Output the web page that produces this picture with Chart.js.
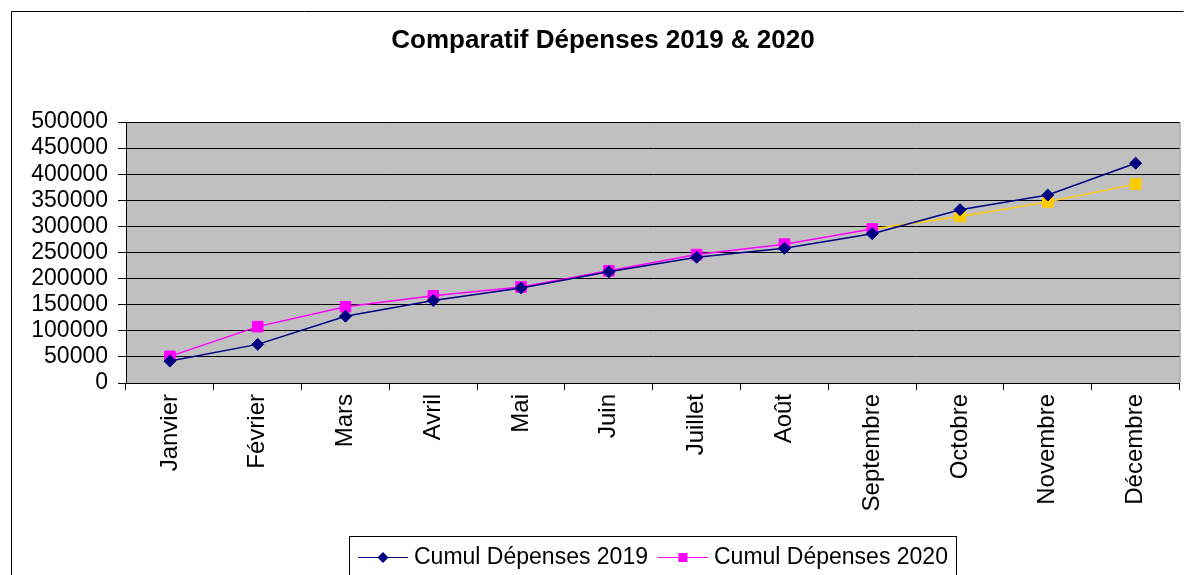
<!DOCTYPE html>
<html>
<head>
<meta charset="utf-8">
<script src="https://cdn.jsdelivr.net/npm/chart.js@4.4.1/dist/chart.umd.min.js"></script>
<style>
  html, body { margin: 0; padding: 0; background: #ffffff; }
  canvas { display: block; }
</style>
</head>
<body>
<canvas id="c" width="1188" height="575"></canvas>
<script>
const months = ["Janvier", "Février", "Mars", "Avril", "Mai", "Juin", "Juillet", "Août", "Septembre", "Octobre", "Novembre", "Décembre"];
const depenses2019 = [42000, 74000, 128000, 158000, 182000, 213000, 241000, 258000, 286000, 332000, 360000, 421000];
const depenses2020 = [51000, 108000, 146000, 167000, 184000, 215000, 246000, 266000, 295000, 319000, 347000, 381000];
const yTicks = [0, 50000, 100000, 150000, 200000, 250000, 300000, 350000, 400000, 450000, 500000];
const chartTitle = "Comparatif Dépenses 2019 & 2020";
const label2019 = "Cumul Dépenses 2019";
const label2020 = "Cumul Dépenses 2020";

const FONT = '"Liberation Sans", Arial, sans-serif';
const NAVY = '#000080';
const MAGENTA = '#FF00FF';
const YELLOW = '#FFCC00';
const LAST_MAGENTA_INDEX = 8; // Septembre

const color2020 = depenses2020.map((v, i) => i > LAST_MAGENTA_INDEX ? YELLOW : MAGENTA);

const decorPlugin = {
  id: 'decor',
  beforeDraw(chart) {
    const { ctx, chartArea: a } = chart;
    ctx.save();
    ctx.fillStyle = '#ffffff';
    ctx.fillRect(0, 0, chart.width, chart.height);
    // outer frame
    ctx.strokeStyle = '#000000';
    ctx.lineWidth = 1;
    ctx.beginPath();
    ctx.moveTo(11.5, chart.height + 5);
    ctx.lineTo(11.5, 11.5);
    ctx.lineTo(1183.5, 11.5);
    ctx.stroke();
    // plot background
    ctx.fillStyle = '#C0C0C0';
    ctx.fillRect(a.left, a.top, a.right - a.left, a.bottom - a.top);
    ctx.strokeStyle = '#808080';
    ctx.beginPath();
    ctx.moveTo(a.left, a.top + 0.5);
    ctx.lineTo(a.right + 0.5, a.top + 0.5);
    ctx.lineTo(a.right + 0.5, a.bottom);
    ctx.stroke();
    // title
    ctx.fillStyle = '#000000';
    ctx.font = 'bold 26px ' + FONT;
    ctx.textAlign = 'center';
    ctx.textBaseline = 'middle';
    ctx.fillText(chartTitle, 603, 41);
    ctx.restore();
  },
  afterDraw(chart) {
    const { ctx } = chart;
    ctx.save();
    // legend box
    const bx = 349.5, by = 536.5, bw = 607;
    ctx.fillStyle = '#ffffff';
    ctx.fillRect(bx, by, bw, 60);
    ctx.strokeStyle = '#000000';
    ctx.lineWidth = 1;
    ctx.strokeRect(bx, by, bw, 60);
    const cy = 557.5;
    ctx.font = '23px ' + FONT;
    ctx.textAlign = 'left';
    ctx.textBaseline = 'middle';
    let x = 358;
    chart.data.datasets.forEach((ds, i) => {
      const col = i === 0 ? ds.borderColor : MAGENTA;
      ctx.strokeStyle = col;
      ctx.lineWidth = 1.2;
      ctx.beginPath();
      ctx.moveTo(x, cy);
      ctx.lineTo(x + 50, cy);
      ctx.stroke();
      const mx = x + 25;
      ctx.fillStyle = col;
      ctx.beginPath();
      if (ds.pointStyle === 'rectRot') {
        ctx.moveTo(mx, cy - 5.5); ctx.lineTo(mx + 5.5, cy); ctx.lineTo(mx, cy + 5.5); ctx.lineTo(mx - 5.5, cy);
        ctx.closePath();
      } else {
        ctx.rect(mx - 4.5, cy - 4.5, 9, 9);
      }
      ctx.fill();
      ctx.fillStyle = '#000000';
      ctx.fillText(ds.label, x + 56, cy);
      x += 56 + ctx.measureText(ds.label).width + 10;
    });
    ctx.restore();
  }
};

new Chart(document.getElementById('c'), {
  type: 'line',
  data: {
    labels: months,
    datasets: [
      {
        label: label2019,
        data: depenses2019,
        borderColor: NAVY,
        backgroundColor: NAVY,
        borderWidth: 1.5,
        pointStyle: 'rectRot',
        pointRadius: 6,
        pointHoverRadius: 6,
        pointBackgroundColor: NAVY,
        pointBorderColor: NAVY,
        pointBorderWidth: 1,
        tension: 0,
        fill: false
      },
      {
        label: label2020,
        data: depenses2020,
        borderColor: MAGENTA,
        backgroundColor: MAGENTA,
        borderWidth: 1.5,
        pointStyle: 'rect',
        pointRadius: 7.5,
        pointHoverRadius: 7.5,
        pointBackgroundColor: color2020,
        pointBorderColor: color2020,
        pointBorderWidth: 1,
        tension: 0,
        fill: false,
        segment: {
          borderColor: c => c.p0DataIndex >= LAST_MAGENTA_INDEX ? YELLOW : MAGENTA
        }
      }
    ]
  },
  options: {
    responsive: false,
    animation: false,
    devicePixelRatio: 1,
    layout: { padding: { left: 0, right: 6, top: 122, bottom: 0 } },
    plugins: {
      legend: { display: false },
      title: { display: false },
      tooltip: { enabled: false }
    },
    scales: {
      x: {
        type: 'category',
        offset: true,
        grid: {
          offset: true,
          drawOnChartArea: false,
          drawTicks: true,
          tickLength: 7,
          color: '#000000',
          lineWidth: 1
        },
        border: { display: true, color: '#000000', width: 1 },
        ticks: {
          autoSkip: false,
          minRotation: 90,
          maxRotation: 90,
          padding: 4,
          color: '#000000',
          font: { family: FONT, size: 24 }
        },
        afterFit(scale) { scale.height = 192; }
      },
      y: {
        min: 0,
        max: 500000,
        afterBuildTicks(scale) { scale.ticks = yTicks.map(v => ({ value: v })); },
        grid: {
          color: '#000000',
          lineWidth: 1,
          drawTicks: true,
          tickLength: 8
        },
        border: { display: true, color: '#000000', width: 1 },
        ticks: {
          autoSkip: false,
          padding: 10,
          color: '#000000',
          font: { family: FONT, size: 23 },
          callback: v => String(v)
        },
        afterFit(scale) { scale.width = 126; }
      }
    }
  },
  plugins: [decorPlugin]
});
</script>
</body>
</html>
